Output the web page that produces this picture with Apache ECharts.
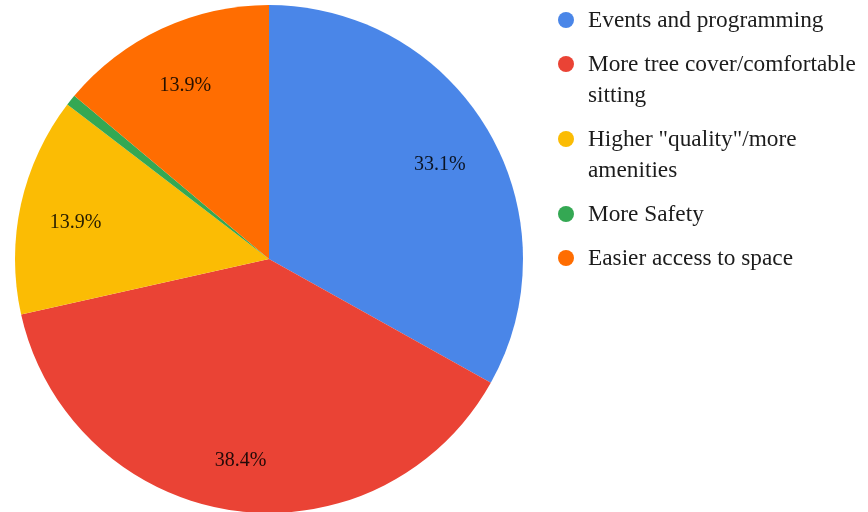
<!DOCTYPE html>
<html>
<head>
<meta charset="utf-8">
<script src="https://cdn.jsdelivr.net/npm/echarts@6/dist/echarts.min.js"></script>
<style>
  html, body { margin: 0; padding: 0; background: #fff; }
  #chart { width: 868px; height: 512px; }
</style>
</head>
<body>
<div id="chart"></div>
<script>
// Survey responses: what would make the space better
const categories = [
  'Events and programming',
  'More tree cover/comfortable\nsitting',
  'Higher "quality"/more\namenities',
  'More Safety',
  'Easier access to space'
];
const shares = [33.1, 38.4, 13.9, 0.7, 13.9];
const colors = ['#4A86E8', '#EA4335', '#FBBC04', '#34A853', '#FF6D01'];
const minLabelShare = 2; // slices smaller than this get no percentage label

const FONT = '"Liberation Serif", "DejaVu Serif", serif';
const cx = 269, cy = 259, R = 254;

const pieData = categories.map((name, i) => ({
  name: name,
  value: shares[i],
  itemStyle: { color: colors[i] }
}));

const labelData = categories.map((name, i) => ({
  name: name,
  value: shares[i],
  label: { show: shares[i] >= minLabelShare }
}));

// Legend drawn as graphic elements: dot + (possibly wrapped) text, first line aligned with the dot
const legendGraphics = [];
let y = 20;
const lineH = 31, itemGap = 13;
categories.forEach((name, i) => {
  const lines = name.split('\n').length;
  legendGraphics.push({
    type: 'circle',
    shape: { cx: 566, cy: y, r: 8 },
    style: { fill: colors[i] },
    silent: true
  });
  legendGraphics.push({
    type: 'text',
    x: 588,
    y: y - lineH / 2 + 1,
    style: {
      text: name,
      font: '23.3px ' + FONT,
      fill: '#1c1c1c',
      lineHeight: lineH,
      verticalAlign: 'top',
      align: 'left'
    },
    silent: true
  });
  y += lines * lineH + itemGap;
});

const chart = echarts.init(document.getElementById('chart'), null, { renderer: 'canvas' });
chart.setOption({
  animation: false,
  backgroundColor: '#fff',
  series: [
    {
      type: 'pie',
      center: [cx, cy],
      radius: [0, R],
      startAngle: 90,
      clockwise: true,
      avoidLabelOverlap: false,
      label: { show: false },
      labelLine: { show: false },
      itemStyle: { borderWidth: 0 },
      emphasis: { disabled: true },
      data: pieData
    },
    {
      // transparent ring used only to place percentage labels further out
      type: 'pie',
      center: [cx, cy],
      radius: [136, R],
      startAngle: 90,
      clockwise: true,
      silent: true,
      avoidLabelOverlap: false,
      percentPrecision: 1,
      itemStyle: { color: 'rgba(0,0,0,0)', borderWidth: 0 },
      label: {
        position: 'inside',
        offset: [0, 6],
        formatter: p => p.percent.toFixed(1) + '%',
        fontFamily: FONT,
        fontSize: 20,
        color: 'rgba(0,0,0,0.85)'
      },
      labelLine: { show: false },
      emphasis: { disabled: true },
      data: labelData
    }
  ],
  graphic: legendGraphics
});
</script>
</body>
</html>
